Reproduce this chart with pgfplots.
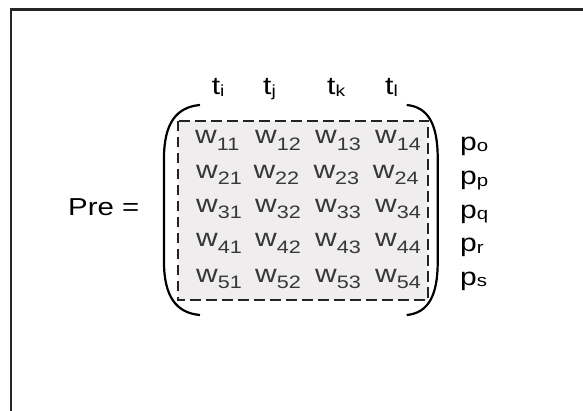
\documentclass[border=0pt]{standalone}
\usepackage{pgfplots}
\pgfplotsset{compat=1.18}
\usepackage{pgfplotstable}
\usepackage{fontspec}
\setmainfont{Liberation Sans}[FakeStretch=1.2]
\definecolor{wgray}{RGB}{55,55,55}
\definecolor{boxfill}{RGB}{239,237,237}
\definecolor{dashc}{RGB}{35,35,35}
\newcommand{\wsub}[1]{\raisebox{-6.5pt}{\fontsize{18}{18}\selectfont #1}}
\newcommand{\tsub}[1]{\raisebox{-2pt}{\fontsize{16}{16}\selectfont #1}}
\newcommand{\psub}[1]{\raisebox{-1.5pt}{\fontsize{17}{17}\selectfont #1}}
\pgfplotstableread{
x y lab
195 143.5 11
255 143.5 12
315 143.5 13
375 143.5 14
196 178 21
253.3 178 22
313.3 178 23
372.7 178 24
196 212.4 31
255 212.4 32
315 212.4 33
375 212.4 34
196 246.8 41
255 246.8 42
315 246.8 43
375 246.8 44
196 282 51
255 282 52
315 282 53
375 282 54
}\wtab
\pgfplotstableread{
x y lab
211.7 94 i
263 94 j
327 94 k
385 94 l
}\ttab
\pgfplotstableread{
x y lab
460 150 o
460 184.5 p
460 218.4 q
460 251.7 r
460 285 s
}\ptab
\begin{document}
\begin{tikzpicture}
\begin{axis}[
  width=583pt, height=410pt, scale only axis,
  xmin=0, xmax=583, ymin=0, ymax=410, y dir=reverse,
  axis lines=none, ticks=none,
]
\path (axis cs:0,0) rectangle (axis cs:583,410);
% outer frame (cropped)
\draw[line width=2.3pt, black!85] (axis cs:11.2,430) -- (axis cs:11.2,9.5) -- (axis cs:600,9.5);
% shaded dashed box
\fill[boxfill] (axis cs:177.7,120.7) rectangle (axis cs:428.3,300);
\draw[dashc, line width=2.2pt, dash pattern=on 10.5pt off 5.5pt] (axis cs:177.7,120.7) rectangle (axis cs:428.3,300);
% parentheses
\draw[line width=2.2pt, black] (axis cs:200,105) .. controls (axis cs:176,107) and (axis cs:164,124) .. (axis cs:164,158) -- (axis cs:164,262) .. controls (axis cs:164,296) and (axis cs:176,313) .. (axis cs:200,315);
\draw[line width=2.2pt, black] (axis cs:406.7,105) .. controls (axis cs:428,107) and (axis cs:437.7,124) .. (axis cs:437.7,158) -- (axis cs:437.7,262) .. controls (axis cs:437.7,296) and (axis cs:428,313) .. (axis cs:406.7,315);
% matrix entries
\addplot[draw=none, mark=none, point meta=explicit symbolic,
  nodes near coords={w\wsub{\pgfplotspointmeta}},
  every node near coord/.style={anchor=base west, inner sep=0pt, text=wgray, font=\fontsize{25}{27}\selectfont}]
  table[meta=lab]{\wtab};
\addplot[draw=none, mark=none, point meta=explicit symbolic,
  nodes near coords={t\tsub{\pgfplotspointmeta}},
  every node near coord/.style={anchor=base west, inner sep=0pt, text=black, font=\fontsize{25}{27}\selectfont}]
  table[meta=lab]{\ttab};
\addplot[draw=none, mark=none, point meta=explicit symbolic,
  nodes near coords={p\psub{\pgfplotspointmeta}},
  every node near coord/.style={anchor=base west, inner sep=0pt, text=black, font=\fontsize{25}{27}\selectfont}]
  table[meta=lab]{\ptab};
\node[anchor=base west, inner sep=0pt, font=\fontsize{24.5}{27}\selectfont] at (axis cs:68,215.5) {Pre =};
\end{axis}
\end{tikzpicture}
\end{document}
